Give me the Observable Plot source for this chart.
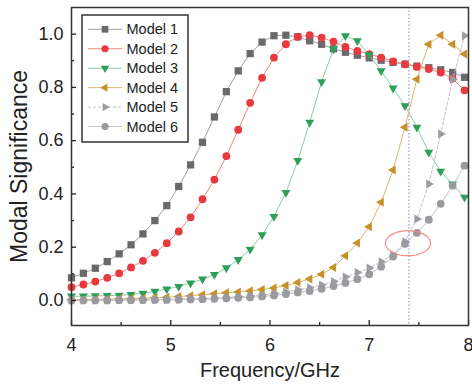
<!DOCTYPE html>
<html><head><meta charset="utf-8">
<script src="https://cdn.jsdelivr.net/npm/d3@7"></script>
<script src="https://cdn.jsdelivr.net/npm/@observablehq/plot@0.6"></script>
<style>
body{margin:0;background:#fff;}
#wrap{position:relative;width:472px;height:390px;font-family:"Liberation Sans",Arial,sans-serif;}
#legend{position:absolute;left:81px;top:14px;}
</style></head><body><div id="wrap"></div>
<script>
const freq = [4.00,4.12,4.24,4.36,4.48,4.60,4.72,4.84,4.96,5.08,5.20,5.32,5.44,5.56,5.68,5.80,5.92,6.04,6.16,6.28,6.40,6.52,6.64,6.76,6.88,7.00,7.12,7.24,7.36,7.48,7.60,7.72,7.84,7.96];
const model1 = [0.085,0.102,0.121,0.146,0.175,0.209,0.250,0.300,0.356,0.428,0.509,0.594,0.689,0.784,0.862,0.927,0.970,0.994,0.996,0.990,0.975,0.962,0.945,0.932,0.921,0.911,0.902,0.894,0.887,0.880,0.874,0.866,0.856,0.838];
const model2 = [0.050,0.060,0.071,0.085,0.102,0.124,0.149,0.179,0.215,0.259,0.312,0.380,0.454,0.542,0.641,0.742,0.836,0.912,0.962,0.990,0.996,0.987,0.972,0.952,0.937,0.925,0.912,0.898,0.887,0.877,0.869,0.856,0.833,0.789];
const model3 = [0.016,0.016,0.017,0.018,0.019,0.022,0.027,0.034,0.043,0.052,0.065,0.080,0.097,0.122,0.153,0.192,0.246,0.315,0.405,0.525,0.669,0.821,0.944,0.994,0.975,0.922,0.862,0.797,0.731,0.650,0.556,0.485,0.437,0.387];
const model4 = [0.003,0.003,0.004,0.005,0.006,0.007,0.008,0.010,0.012,0.015,0.018,0.021,0.025,0.029,0.032,0.036,0.041,0.047,0.056,0.067,0.081,0.098,0.124,0.168,0.216,0.277,0.369,0.490,0.650,0.831,0.962,0.996,0.962,0.925];
const model5 = [0.001,0.001,0.001,0.002,0.002,0.002,0.003,0.003,0.004,0.005,0.006,0.007,0.009,0.011,0.014,0.017,0.021,0.026,0.032,0.040,0.048,0.058,0.071,0.088,0.105,0.122,0.145,0.172,0.220,0.306,0.437,0.625,0.830,0.994];
const model6 = [0.000,0.000,0.000,0.000,0.001,0.001,0.001,0.002,0.002,0.003,0.004,0.005,0.006,0.008,0.010,0.012,0.015,0.019,0.024,0.030,0.036,0.044,0.054,0.066,0.080,0.098,0.127,0.165,0.213,0.254,0.303,0.363,0.431,0.506];
const seriesNames = ["Model 1","Model 2","Model 3","Model 4","Model 5","Model 6"];
const seriesValues = [model1,model2,model3,model4,model5,model6];
const markerColors = ["#6a6a6d","#e8393e","#2e9e5b","#c8902b","#9c9ca2","#9a9a9f"];
const lineColors = ["#a2a2a2","#f2877d","#8bcfa3","#e2b46a","#c2c2c8","#c4c4c4"];
const dashes = [null,null,null,null,"3,2",null];
const xTicks = [4,5,6,7,8];
const xMinor = [4.5,5.5,6.5,7.5];
const yTicks = [0,0.2,0.4,0.6,0.8,1.0];
const yMinor = [0.1,0.3,0.5,0.7,0.9];
const markerFreq = [7.4];
const ellipseAnn = {x:7.39, y:0.215, rx:0.227, ry:0.047};

function tri(angle){
  return {draw(ctx,size){
    const R = Math.sqrt(size/Math.PI)*1.3;
    for(let k=0;k<3;k++){const a=angle+k*2*Math.PI/3; const px=R*Math.cos(a), py=R*Math.sin(a); if(k) ctx.lineTo(px,py); else ctx.moveTo(px,py);}
    ctx.closePath();
  }};
}
const symbols = [d3.symbolSquare, d3.symbolCircle, tri(Math.PI/2), tri(Math.PI), tri(0), d3.symbolCircle];
const symbolNames = ["square","circle",tri(Math.PI/2),tri(Math.PI),tri(0),"circle"];
const rs = [4.1,3.9,4,4,4,3.9];

const ellipsePts = d3.range(0,73).map(k=>{const t=k/72*2*Math.PI; return {x: ellipseAnn.x+ellipseAnn.rx*Math.cos(t), y: ellipseAnn.y+ellipseAnn.ry*Math.sin(t)};});

const W=472,H=390, mL=71, mR=4, mT=7, mB=65;
const marks = [];
marks.push(Plot.ruleX(markerFreq, {x:d=>d, stroke:"#7c7cf2", strokeWidth:1, strokeDasharray:"1.5,2"}));
seriesValues.forEach((vals,s)=>{
  const rows = vals.map((v,i)=>({f:freq[i], v}));
  marks.push(Plot.line(rows,{x:"f",y:"v",stroke:lineColors[s],strokeWidth:1,strokeDasharray:dashes[s]}));
  marks.push(Plot.dot(rows,{x:"f",y:"v",symbol:symbolNames[s],r:rs[s],fill:markerColors[s],stroke:"none"}));
});
marks.push(Plot.line(ellipsePts,{x:"x",y:"y",stroke:"#f28b7a",strokeWidth:1.2}));
const plotH = H-mT-mB, plotW = W-mL-mR;
marks.push(Plot.tickX(xTicks,{x:d=>d, insetTop:plotH-5, stroke:"#222", strokeWidth:1.3}));
marks.push(Plot.tickX(xMinor,{x:d=>d, insetTop:plotH-3, stroke:"#222", strokeWidth:1.3}));
marks.push(Plot.tickY(yTicks,{y:d=>d, insetRight:plotW-5, stroke:"#222", strokeWidth:1.3}));
marks.push(Plot.tickY(yMinor,{y:d=>d, insetRight:plotW-3, stroke:"#222", strokeWidth:1.3}));
marks.push(Plot.axisX({ticks:xTicks, tickSize:0, tickPadding:13, fontSize:18, tickFormat:d3.format("d"), label:null, fill:"#222"}));
marks.push(Plot.axisY({ticks:yTicks, tickSize:0, tickPadding:8, fontSize:18, tickFormat:d3.format(".1f"), label:null, fill:"#222"}));
marks.push(Plot.text(["Frequency/GHz"],{text:d=>d, frameAnchor:"bottom", dy:51, fontSize:20, fill:"#222"}));
marks.push(Plot.text(["Modal Significance"],{text:d=>d, frameAnchor:"left", textAnchor:"middle", dx:-52, rotate:-90, fontSize:23, fill:"#222"}));
marks.push(Plot.frame({stroke:"#333", strokeWidth:1.5}));

const chart = Plot.plot({
  width:W, height:H, marginLeft:mL, marginRight:mR, marginTop:mT, marginBottom:mB,
  x:{domain:[4,8]}, y:{domain:[-0.094,1.1]},
  style:{fontFamily:'"Liberation Sans",Arial,sans-serif', background:"#fff", color:"#222"},
  marks
});
const wrap = document.getElementById("wrap");
wrap.appendChild(chart);

// legend
const lg = d3.create("svg").attr("id","legend").attr("width",108).attr("height",129);
lg.append("rect").attr("x",1).attr("y",1).attr("width",106).attr("height",127).attr("fill","#fff").attr("stroke","#333").attr("stroke-width",1.5);
seriesNames.forEach((name,s)=>{
  const y = 15.3 + s*19.45;
  lg.append("line").attr("x1",7).attr("x2",41).attr("y1",y).attr("y2",y).attr("stroke",lineColors[s]).attr("stroke-width",1).attr("stroke-dasharray",dashes[s]);
  lg.append("path").attr("d",d3.symbol(symbols[s], Math.PI*rs[s]*rs[s]*0.85)()).attr("transform",`translate(24,${y})`).attr("fill",markerColors[s]);
  lg.append("text").attr("x",45.5).attr("y",y).attr("dy","0.35em").attr("font-size",14.5).attr("fill","#222").attr("font-family",'"Liberation Sans",Arial,sans-serif').text(name);
});
wrap.appendChild(lg.node());
</script></body></html>
